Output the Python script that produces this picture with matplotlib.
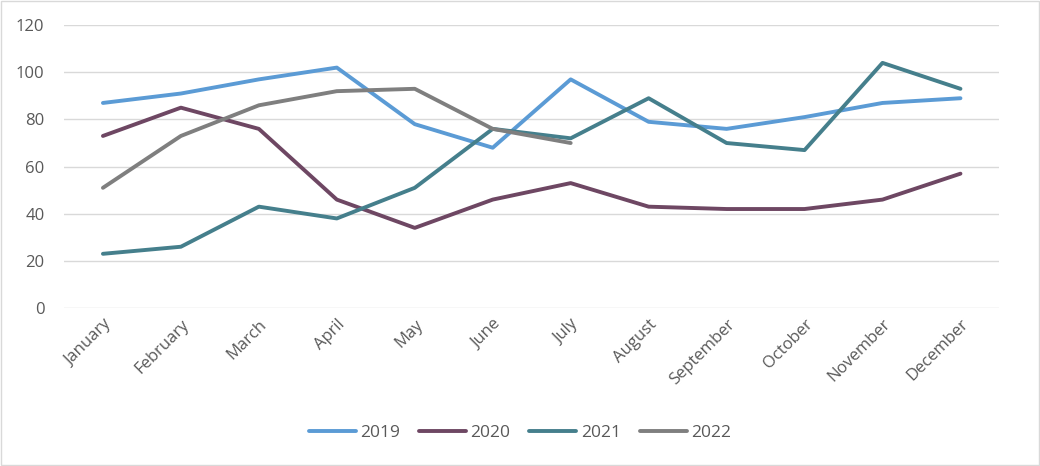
import matplotlib.pyplot as plt
import numpy as np

months = ['January', 'February', 'March', 'April', 'May', 'June', 'July',
          'August', 'September', 'October', 'November', 'December']
years = ['2019', '2020', '2021', '2022']
v2019 = [87, 91, 97, 102, 78, 68, 97, 79, 76, 81, 87, 89]
v2020 = [73, 85, 76, 46, 34, 46, 53, 43, 42, 42, 46, 57]
v2021 = [23, 26, 43, 38, 51, 76, 72, 89, 70, 67, 104, 93]
v2022 = [51, 73, 86, 92, 93, 76, 70]
y_ticks = [0, 20, 40, 60, 80, 100, 120]

colors = ['#5B9BD5', '#6E4763', '#457F8C', '#7F7F7F']
text_col = '#595959'

plt.rcParams['font.family'] = ['Open Sans', 'DejaVu Sans']

fig = plt.figure(figsize=(10.4, 4.66), dpi=100)
ax = fig.add_axes([0.0615, 0.339, 0.8995, 0.607])

x = np.arange(len(months))
for vals, c, lab in zip([v2019, v2020, v2021, v2022], colors, years):
    ax.plot(x[:len(vals)], vals, color=c, lw=2.8, label=lab, solid_capstyle='round')

ax.set_xlim(-0.5, len(months) - 0.5)
ax.set_ylim(0, 120)
ax.set_yticks(y_ticks)
ax.set_xticks(x)
ax.set_xticklabels(months, rotation=45, ha='right', rotation_mode='anchor')
ax.tick_params(axis='both', length=0, colors=text_col, labelsize=12)
ax.tick_params(axis='x', pad=6)
ax.tick_params(axis='y', pad=14)
ax.grid(axis='y', color='#D9D9D9', lw=1)
ax.set_axisbelow(True)
for s in ax.spines.values():
    s.set_visible(False)

leg = fig.legend(loc='center', bbox_to_anchor=(0.5, 0.07), ncol=4, frameon=False,
                 fontsize=12.5, handlelength=2.7, columnspacing=1.1, handletextpad=0.25)
for t in leg.get_texts():
    t.set_color(text_col)

border = plt.Rectangle((0.001, 0.002), 0.998, 0.996, transform=fig.transFigure,
                       fill=False, edgecolor='#D9D9D9', lw=1)
fig.patches.append(border)

fig.savefig('out.png', dpi=100)
